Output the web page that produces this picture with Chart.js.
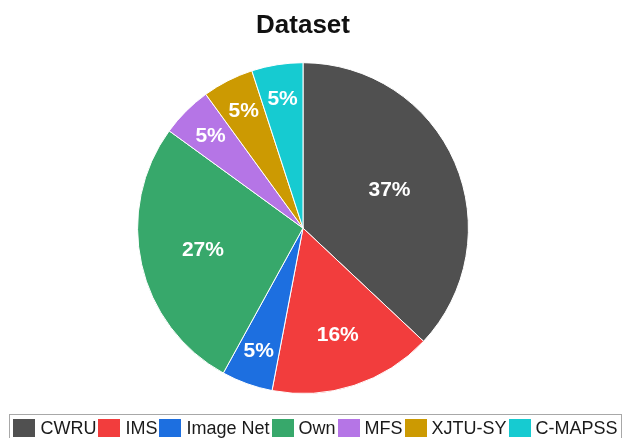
<!DOCTYPE html>
<html>
<head>
<meta charset="utf-8">
<script src="https://cdn.jsdelivr.net/npm/chart.js@4/dist/chart.umd.min.js"></script>
<style>
  html, body { margin: 0; padding: 0; background: #ffffff; }
  #wrap { width: 625px; height: 438px; position: relative; }
</style>
</head>
<body>
<div id="wrap"><canvas id="c" width="625" height="438"></canvas></div>
<script>
// Share of studies by dataset (percent)
const categories = ['CWRU', 'IMS', 'Image Net', 'Own', 'MFS', 'XJTU-SY', 'C-MAPSS'];
const shares = [37, 16, 5, 27, 5, 5, 5];
const sliceColors = ['#505050', '#f23d3d', '#1d6fe0', '#37a86b', '#b575e6', '#cc9a02', '#16cbd1'];

const FONT = 'Arial, "Liberation Sans", sans-serif';

// Percent labels placed inside each slice; narrow slices get their label pushed outward
const sliceLabels = {
  id: 'sliceLabels',
  afterDatasetsDraw(chart) {
    const ctx = chart.ctx;
    const meta = chart.getDatasetMeta(0);
    const data = chart.data.datasets[0].data;
    const total = data.reduce((a, b) => a + b, 0);
    ctx.save();
    ctx.fillStyle = '#ffffff';
    ctx.font = 'bold 21px ' + FONT;
    ctx.textAlign = 'center';
    ctx.textBaseline = 'middle';
    meta.data.forEach((arc, i) => {
      const p = arc.getProps(['x', 'y', 'startAngle', 'endAngle', 'outerRadius'], true);
      const mid = (p.startAngle + p.endAngle) / 2;
      const pct = data[i] / total * 100;
      let f;
      if (pct < 10) f = 0.79;
      else if (pct < 20) f = 0.68;
      else if (pct < 30) f = 0.62;
      else f = 0.57;
      const r = p.outerRadius * f;
      ctx.fillText(Math.round(pct) + '%', p.x + Math.cos(mid) * r, p.y + Math.sin(mid) * r);
    });
    ctx.restore();
  }
};

// Boxed single-row legend along the bottom edge
const boxedLegend = {
  id: 'boxedLegend',
  afterDraw(chart) {
    const ctx = chart.ctx;
    const ds = chart.data.datasets[0];
    const labels = chart.data.labels;
    const boxW = 22, boxH = 18, gapText = 5, gapItem = 2;
    ctx.save();
    ctx.font = '18px ' + FONT;
    const widths = labels.map(t => boxW + gapText + ctx.measureText(t).width);
    const total = widths.reduce((a, b) => a + b, 0) + gapItem * (labels.length - 1);
    const frameL = 9.5, frameR = 621.5, frameT = 414.5;
    let x = (frameL + frameR) / 2 - total / 2;
    const cy = 428;
    ctx.strokeStyle = '#a8a8a8';
    ctx.lineWidth = 1;
    ctx.strokeRect(frameL, frameT, frameR - frameL, 40);
    ctx.textBaseline = 'middle';
    ctx.textAlign = 'left';
    labels.forEach((t, i) => {
      ctx.fillStyle = ds.backgroundColor[i];
      ctx.fillRect(Math.round(x), cy - boxH / 2, boxW, boxH);
      ctx.fillStyle = '#1a1a1a';
      ctx.fillText(t, x + boxW + gapText, cy + 1);
      x += widths[i] + gapItem;
    });
    ctx.restore();
  }
};

new Chart(document.getElementById('c'), {
  type: 'pie',
  data: {
    labels: categories,
    datasets: [{
      data: shares,
      backgroundColor: sliceColors,
      borderColor: '#ffffff',
      borderWidth: 1
    }]
  },
  options: {
    responsive: false,
    animation: false,
    layout: { padding: { left: 0, right: 19, top: 0, bottom: 44 } },
    plugins: {
      legend: { display: false },
      tooltip: { enabled: false },
      title: {
        display: true,
        text: 'Dataset',
        color: '#111111',
        font: { family: FONT, size: 26, weight: 'bold' },
        padding: { top: 10, bottom: 21 }
      }
    }
  },
  plugins: [sliceLabels, boxedLegend]
});
</script>
</body>
</html>
